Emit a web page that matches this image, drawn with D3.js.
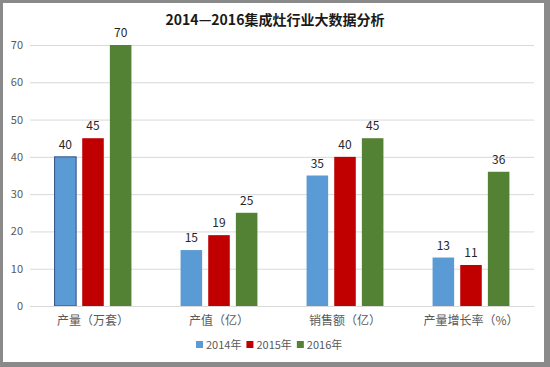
<!DOCTYPE html>
<html><head><meta charset="utf-8">
<script src="https://cdn.jsdelivr.net/npm/d3@7"></script>
<style>body{margin:0;background:#fff}svg{display:block}text{font-family:"Noto Sans CJK SC","Noto Sans",sans-serif}</style>
</head><body>
<script>
const categories = ["产量（万套）", "产值（亿）", "销售额（亿）", "产量增长率（%）"];
const seriesNames = ["2014年", "2015年", "2016年"];
const values2014 = [40, 15, 35, 13];
const values2015 = [45, 19, 40, 11];
const values2016 = [70, 25, 45, 36];
const colors = ["#5b9bd5", "#c00000", "#548235"];
const yTicks = [0, 10, 20, 30, 40, 50, 60, 70];
const title = "2014—2016集成灶行业大数据分析";

const W = 550, H = 367;
const svg = d3.select("body").append("svg").attr("width", W).attr("height", H);
svg.append("rect").attr("width", W).attr("height", H).attr("fill", "#8a8a8a");
svg.append("rect").attr("x", 3).attr("y", 3).attr("width", 541).attr("height", 359).attr("fill", "#fff");

const m = {l: 30, r: 534, t: 45, b: 306};
const y = d3.scaleLinear().domain([0, 70]).range([m.b, m.t]);
const x0 = d3.scaleBand().domain(categories).range([m.l, m.r]).paddingInner(0.39).paddingOuter(0.195);
const x1 = d3.scaleBand().domain(seriesNames).range([0, x0.bandwidth()]).paddingInner(0.22);

svg.append("text").attr("x", 275).attr("y", 25).attr("text-anchor", "middle")
  .attr("font-size", 14).attr("font-weight", "bold").attr("fill", "#1a1a1a").text(title);

const yAxis = svg.append("g").attr("transform", `translate(${m.l},0)`)
  .call(d3.axisLeft(y).tickValues(yTicks).tickSize(-(m.r - m.l)).tickPadding(7));
yAxis.select(".domain").remove();
yAxis.selectAll(".tick line").attr("stroke", "#d9d9d9");
yAxis.selectAll(".tick text").attr("fill", "#595959").attr("font-size", 11);

const data = [values2014, values2015, values2016];
const g = svg.append("g");
categories.forEach((c, ci) => {
  seriesNames.forEach((s, si) => {
    const v = data[si][ci];
    const bx = x0(c) + x1(s);
    g.append("rect").attr("x", bx).attr("y", y(v)).attr("width", x1.bandwidth())
      .attr("height", y(0) - y(v)).attr("fill", colors[si])
      .attr("stroke", (ci === 0 && si === 0) ? "#2f4f8a" : "none").attr("stroke-width", 1);
    g.append("text").attr("x", bx + x1.bandwidth() / 2).attr("y", y(v) - 8)
      .attr("text-anchor", "middle").attr("font-size", 12).attr("fill", "#262626").text(v);
  });
});

const xAxis = svg.append("g").attr("transform", `translate(0,${m.b})`)
  .call(d3.axisBottom(x0).tickSize(0).tickPadding(10));
xAxis.select(".domain").attr("stroke", "#d9d9d9");
xAxis.selectAll(".tick text").attr("fill", "#595959").attr("font-size", 12);

const legendItems = seriesNames.map((s, i) => ({s, c: colors[i]}));
const lg = svg.append("g").attr("transform", "translate(196,345)");
let lx = 0;
legendItems.forEach(d => {
  lg.append("rect").attr("x", lx).attr("y", -4).attr("width", 7).attr("height", 7).attr("fill", d.c);
  const t = lg.append("text").attr("x", lx + 10).attr("y", 4).attr("font-size", 11).attr("fill", "#595959").text(d.s);
  lx += 10 + t.node().getComputedTextLength() + 5;
});
</script>
</body></html>
